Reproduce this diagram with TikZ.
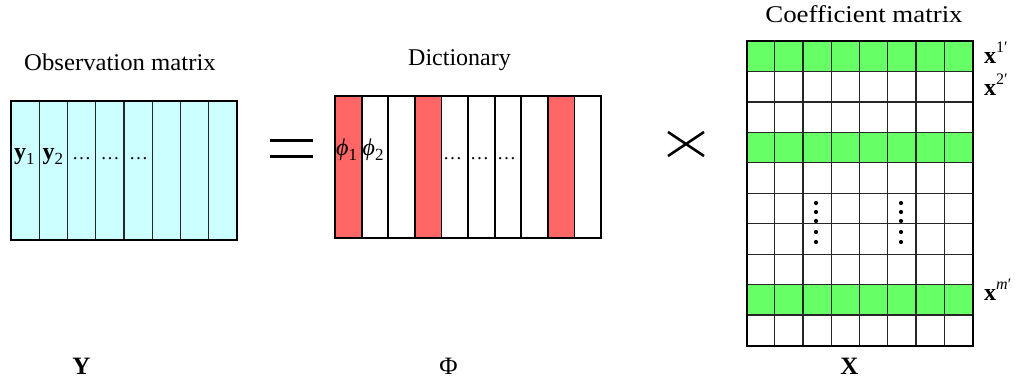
\documentclass[tikz,border=0pt]{standalone}
\usepackage{fontspec}
\setmainfont{Liberation Serif}
\definecolor{cyanfill}{HTML}{CCFFFF}
\definecolor{redfill}{HTML}{FF6666}
\definecolor{greenfill}{HTML}{66FF66}
\newcommand{\mysub}[1]{\raisebox{-0.22em}{\fontsize{17}{17}\selectfont #1}}
\newcommand{\mysup}[1]{\raisebox{0.45em}{\fontsize{16}{16}\selectfont #1}}
\tikzset{
  lbl/.style={inner sep=0pt, anchor=base, font=\fontsize{24}{28}\selectfont},
  lbll/.style={inner sep=0pt, anchor=base west, font=\fontsize{24}{28}\selectfont},
  grid line/.style={line width=1.3pt, draw=black!85},
  outer line/.style={line width=2pt, draw=black},
  vdot/.style={fill=black, draw=none}
}
\begin{document}
\begin{tikzpicture}[x=1pt,y=-1pt]
\useasboundingbox (0,0) rectangle (1018,380);
% ---------- Observation matrix Y ----------
\fill[cyanfill] (11,101) rectangle (237,240);
\foreach \i in {1,...,7} \draw[grid line] ({11+\i*28.25},101) -- ({11+\i*28.25},240);
\draw[outer line] (11,101) rectangle (237,240);
\node[lbl, xscale=1.03] (obs) at (120,70) {Observation matrix};
\node[lbll] (y1) at (14,159) {\textbf{y}\mysub{1}};
\node[lbll] (y2) at (42.5,159) {\textbf{y}\mysub{2}};
\node[lbll, font=\fontsize{19}{20}\selectfont] (yd1) at (72,159) {…};
\node[lbll, font=\fontsize{19}{20}\selectfont] (yd2) at (100.5,159) {…};
\node[lbll, font=\fontsize{19}{20}\selectfont] (yd3) at (129,159) {…};
\node[lbl, font=\bfseries\fontsize{25}{28}\selectfont] (Y) at (81.5,374) {Y};
% ---------- equals ----------
\draw[line width=3pt] (270,140) -- (313,140);
\draw[line width=3pt] (270,156) -- (313,156);
% ---------- Dictionary ----------
\foreach \i in {0,3,8} \fill[redfill] ({335+\i*26.6},96) rectangle ({335+(\i+1)*26.6},238);
\foreach \i in {1,...,9} \draw[line width=1.8pt] ({335+\i*26.6},96) -- ({335+\i*26.6},238);
\draw[outer line] (335,96) rectangle (601,238);
\node[lbl] (dict) at (459.5,65) {Dictionary};
\node[lbll] (p1) at (336,155) {\itshape ϕ\upshape\mysub{1}};
\node[lbll] (p2) at (362.5,155) {\itshape ϕ\upshape\mysub{2}};
\node[lbll, font=\fontsize{19}{20}\selectfont] (pd1) at (443,159) {…};
\node[lbll, font=\fontsize{19}{20}\selectfont] (pd2) at (470,159) {…};
\node[lbll, font=\fontsize{19}{20}\selectfont] (pd3) at (497,159) {…};
\node[lbl, font=\fontsize{25}{28}\selectfont] (Phi) at (448.5,374) {Φ};
% ---------- times ----------
\draw[line width=2.6pt] (668,132) -- (704,156);
\draw[line width=2.6pt] (668,156) -- (704,132);
% ---------- Coefficient matrix X ----------
\foreach \r in {0,3,8} \fill[greenfill] (746.5,{41+\r*30.45}) rectangle (972.5,{41+(\r+1)*30.45});
\foreach \i in {1,...,7} \draw[grid line] ({746.5+\i*28.25},41) -- ({746.5+\i*28.25},345.5);
\foreach \r in {1,...,9} \draw[grid line] (746.5,{41+\r*30.45}) -- (972.5,{41+\r*30.45});
\draw[outer line] (746.5,41) rectangle (972.5,345.5);
\foreach \xx in {816,901} \foreach \yy in {203,212,221,232,242} \fill[vdot] (\xx,\yy) circle (2.1);
\node[lbl, xscale=1.12] (coef) at (864,22) {Coefficient matrix};
\node[lbll] (x1) at (984,63) {\textbf{x}\mysup{1′}};
\node[lbll] (x2) at (984,95) {\textbf{x}\mysup{2′}};
\node[lbll] (xm) at (984,300) {\textbf{x}\mysup{\itshape m\upshape′}};
\node[lbl, font=\bfseries\fontsize{25}{28}\selectfont] (X) at (849.5,374) {X};
\end{tikzpicture}
\end{document}
